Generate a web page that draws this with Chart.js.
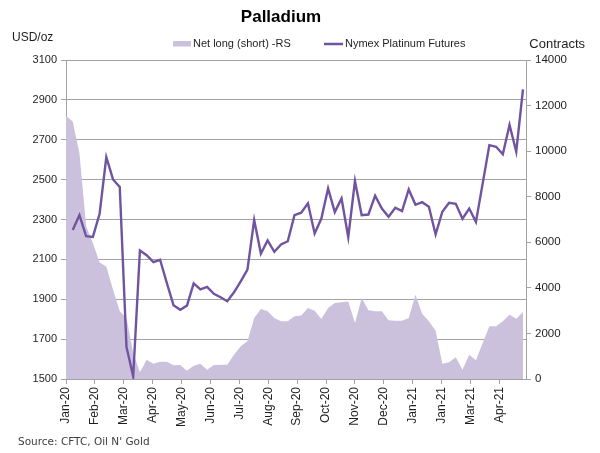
<!DOCTYPE html>
<html>
<head>
<meta charset="utf-8">
<script src="https://cdn.jsdelivr.net/npm/chart.js@4.4.1/dist/chart.umd.min.js"></script>
<style>
  html, body { margin: 0; padding: 0; background: #ffffff; }
  #wrap { width: 600px; height: 453px; }
</style>
</head>
<body>
<div id="wrap"><canvas id="c" width="600" height="453"></canvas></div>
<script>
// ---- data (weekly observations, index 0..68) ----
const tickLabels = ['Jan-20','Feb-20','Mar-20','Apr-20','May-20','Jun-20','Jul-20','Aug-20','Sep-20','Oct-20','Nov-20','Dec-20','Jan-21','Jan-21','Mar-21','Apr-21'];

const netLong = [11550, 11300, 9910, 6700, 5965, 5117, 4942, 3918, 2968, 2675,
  1140, 292, 848, 672, 760, 760, 600, 614, 366, 585,
  673, 409, 614, 629, 629, 1067, 1433, 1652, 2675, 3070,
  2968, 2675, 2529, 2529, 2749, 2792, 3114, 2997, 2632, 3114,
  3333, 3370, 3406, 2456, 3553, 3012, 2968, 2968, 2573, 2559,
  2559, 2675, 3699, 2866, 2529, 2120, 673, 731, 950, 409,
  1067, 819, 1579, 2310, 2310, 2529, 2822, 2646, 2939];

const price = [null, 2247, 2322, 2216, 2213, 2329, 2613, 2501, 2463, 1661,
  1513, 2145, 2121, 2086, 2098, 1982, 1870, 1847, 1868, 1980,
  1950, 1962, 1927, 1910, 1890, 1935, 1990, 2049, 2297, 2129,
  2195, 2138, 2175, 2191, 2322, 2334, 2381, 2230, 2305, 2456,
  2337, 2406, 2211, 2493, 2322, 2325, 2419, 2355, 2314, 2359,
  2342, 2451, 2374, 2387, 2364, 2225, 2339, 2384, 2379, 2304,
  2355, 2288, 2480, 2673, 2665, 2627, 2774, 2640, 2953];

const seriesNames = ['Net long (short) -RS', 'Nymex Platinum Futures'];

// ---- style ----
const AREA = '#cbc1dc';
const LINE = '#7054a0';
const GRID = '#a3a3a3';
const TXT = '#1e1e1e';
const TICK_STEP = 4.3;   // weeks between axis labels
const X_MAX = 68.45;

const areaPts = netLong.map((v, i) => ({ x: i, y: v }));
const linePts = price.map((v, i) => ({ x: i, y: v })).filter(p => p.y !== null);

const decor = {
  id: 'decor',
  afterDraw(chart) {
    const ctx = chart.ctx;
    ctx.save();
    ctx.fillStyle = '#000';
    ctx.textBaseline = 'middle';
    ctx.textAlign = 'center';
    ctx.font = 'bold 17px "Liberation Sans", Arial, sans-serif';
    ctx.fillText('Palladium', 281, 17);

    ctx.fillStyle = TXT;
    ctx.textAlign = 'left';
    ctx.font = '12px "Liberation Sans", Arial, sans-serif';
    ctx.fillText('USD/oz', 12, 38);
    ctx.textAlign = 'right';
    ctx.font = '13px "Liberation Sans", Arial, sans-serif';
    ctx.fillText('Contracts', 585, 44);

    // legend
    ctx.textAlign = 'left';
    ctx.font = '11px "Liberation Sans", Arial, sans-serif';
    ctx.fillStyle = AREA;
    ctx.fillRect(173, 41, 18, 5.5);
    ctx.fillStyle = TXT;
    ctx.fillText(chart.data.datasets[1].label, 193, 44);
    ctx.strokeStyle = LINE;
    ctx.lineWidth = 2.5;
    ctx.beginPath();
    ctx.moveTo(324, 44);
    ctx.lineTo(343, 44);
    ctx.stroke();
    ctx.fillText(chart.data.datasets[0].label, 345, 44);

    // source
    ctx.fillStyle = '#404040';
    ctx.font = '10.5px "DejaVu Sans", Verdana, sans-serif';
    ctx.fillText("Source: CFTC, Oil N' Gold", 18, 442);
    ctx.restore();
  }
};

new Chart(document.getElementById('c'), {
  type: 'line',
  data: {
    datasets: [
      {
        label: seriesNames[1],
        data: linePts,
        yAxisID: 'y',
        borderColor: LINE,
        borderWidth: 2.4,
        pointRadius: 0,
        tension: 0,
        fill: false,
        order: 1
      },
      {
        label: seriesNames[0],
        data: areaPts,
        yAxisID: 'y1',
        borderWidth: 0,
        borderColor: AREA,
        backgroundColor: AREA,
        pointRadius: 0,
        tension: 0,
        fill: 'origin',
        order: 2
      }
    ]
  },
  options: {
    responsive: false,
    animation: false,
    layout: { padding: { top: 60, left: 0, right: 0, bottom: 0 } },
    plugins: {
      legend: { display: false },
      title: { display: false },
      tooltip: { enabled: false }
    },
    scales: {
      x: {
        type: 'linear',
        min: 0,
        max: X_MAX,
        afterBuildTicks(s) {
          s.ticks = tickLabels.map((l, i) => ({ value: i * TICK_STEP }));
        },
        afterFit(s) { s.height = 74; },
        ticks: {
          autoSkip: false,
          minRotation: 90,
          maxRotation: 90,
          padding: 3,
          color: TXT,
          font: { family: '"Liberation Sans", Arial, sans-serif', size: 12 },
          callback: (v, i) => tickLabels[i]
        },
        grid: { drawOnChartArea: false, color: GRID, tickLength: 5 },
        border: { color: GRID }
      },
      y: {
        position: 'left',
        min: 1500,
        max: 3100,
        afterFit(s) { s.width = 66; },
        ticks: {
          stepSize: 200,
          padding: 4,
          color: TXT,
          font: { family: '"Liberation Sans", Arial, sans-serif', size: 11 },
          callback: (v) => String(v)
        },
        grid: { color: GRID, tickLength: 5 },
        border: { color: GRID }
      },
      y1: {
        position: 'right',
        min: 0,
        max: 14000,
        afterFit(s) { s.width = 74; },
        ticks: {
          stepSize: 2000,
          padding: 4,
          color: TXT,
          font: { family: '"Liberation Sans", Arial, sans-serif', size: 11.5 },
          callback: (v) => String(v)
        },
        grid: { drawOnChartArea: false, color: GRID, tickLength: 5 },
        border: { color: GRID }
      }
    }
  },
  plugins: [decor]
});
</script>
</body>
</html>
